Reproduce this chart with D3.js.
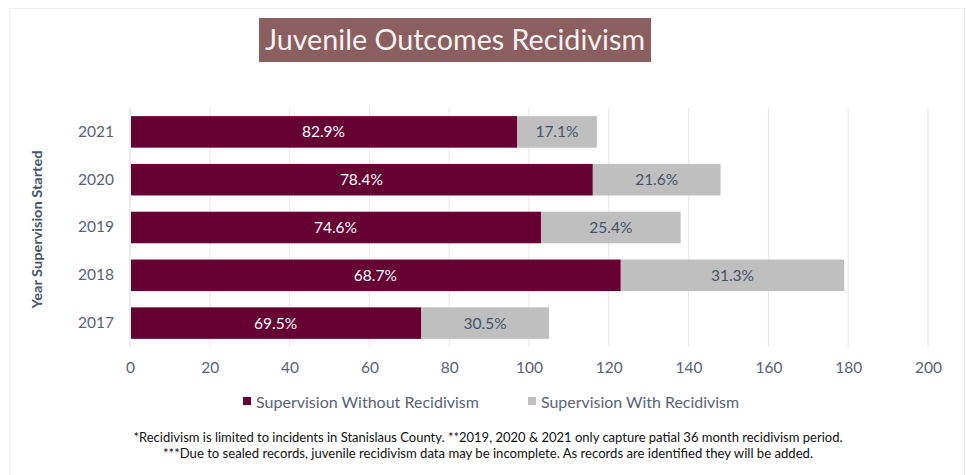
<!DOCTYPE html>
<html>
<head>
<meta charset="utf-8">
<script src="https://cdn.jsdelivr.net/npm/d3@7/dist/d3.min.js"></script>
<style>
  html, body { margin: 0; padding: 0; background: #fff; }
  svg { display: block; font-family: Lato, "Open Sans", sans-serif; }
</style>
</head>
<body>
<svg id="chart" width="966" height="475"></svg>
<script>
// Juvenile supervision outcomes by starting year (counts)
const years = ["2021", "2020", "2019", "2018", "2017"];
const withoutRecidivism = [97, 116, 103, 123, 73];
const withRecidivism = [20, 32, 35, 56, 32];
const xTicks = [0, 20, 40, 60, 80, 100, 120, 140, 160, 180, 200];
const seriesNames = ["Supervision Without Recidivism", "Supervision With Recidivism"];
const footnotes = [
  "*Recidivism is limited to incidents in Stanislaus County. **2019, 2020 & 2021 only capture patial 36 month recidivism period.",
  "***Due to sealed records, juvenile recidivism data may be incomplete. As records are identified they will be added."
];

const colors = ["#660033", "#bfbfbf"];
const labelColors = ["#ffffff", "#44546a"];

const svg = d3.select("#chart");

// faint outer frame
svg.append("rect")
  .attr("x", 9.5).attr("y", 8.5)
  .attr("width", 955).attr("height", 480)
  .attr("fill", "none").attr("stroke", "#eeeeee");

const margin = { left: 130, right: 38, top: 108, bottom: 128 };
const W = 966, H = 475;

const x = d3.scaleLinear().domain([0, 200]).range([margin.left, W - margin.right]);
const y = d3.scaleBand().domain(years).range([margin.top, H - margin.bottom]).paddingInner(0.34).paddingOuter(0.17);

// vertical gridlines
svg.append("g").selectAll("line")
  .data(xTicks.filter(d => d > 0))
  .join("line")
  .attr("x1", d => x(d)).attr("x2", d => x(d))
  .attr("y1", margin.top).attr("y2", H - margin.bottom)
  .attr("stroke", "#e4e6ee").attr("stroke-width", 1);

// category axis line
svg.append("line")
  .attr("x1", x(0)).attr("x2", x(0))
  .attr("y1", margin.top).attr("y2", H - margin.bottom)
  .attr("stroke", "#d4d7de").attr("stroke-width", 1);

// stacked data
const rows = years.map((yr, i) => ({ year: yr, vals: [withoutRecidivism[i], withRecidivism[i]] }));
const stack = d3.stack().keys([0, 1]).value((d, k) => d.vals[k]);
const layers = stack(rows);

layers.forEach((layer, k) => {
  const g = svg.append("g");
  g.selectAll("rect")
    .data(layer)
    .join("rect")
    .attr("x", d => x(d[0]) + (k === 0 ? 1 : 0))
    .attr("y", d => y(d.data.year))
    .attr("width", d => x(d[1]) - x(d[0]) - (k === 0 ? 1 : 0))
    .attr("height", y.bandwidth())
    .attr("fill", colors[k]);

  g.selectAll("text")
    .data(layer)
    .join("text")
    .attr("x", d => (x(d[0]) + x(d[1])) / 2)
    .attr("y", d => y(d.data.year) + y.bandwidth() / 2)
    .attr("dy", "0.36em")
    .attr("text-anchor", "middle")
    .attr("font-size", 15.5)
    .attr("fill", labelColors[k])
    .text(d => {
      const total = d.data.vals[0] + d.data.vals[1];
      return (d.data.vals[k] / total * 100).toFixed(1) + "%";
    });
});

// x axis
const xAxis = svg.append("g")
  .attr("transform", `translate(0,${H - margin.bottom})`)
  .call(d3.axisBottom(x).tickValues(xTicks).tickSize(0).tickPadding(15));
xAxis.select(".domain").remove();
xAxis.selectAll("text").attr("font-size", 15.5).attr("fill", "#596275").attr("font-family", "Lato, 'Open Sans', sans-serif");

// y axis
const yAxis = svg.append("g")
  .attr("transform", `translate(${margin.left},0)`)
  .call(d3.axisLeft(y).tickSize(0).tickPadding(16));
yAxis.select(".domain").remove();
yAxis.selectAll("text").attr("font-size", 15.5).attr("fill", "#596275").attr("font-family", "Lato, 'Open Sans', sans-serif");

// y axis title
svg.append("text")
  .attr("transform", `translate(37,${(margin.top + H - margin.bottom) / 2 + 2}) rotate(-90)`)
  .attr("dy", "0.36em")
  .attr("text-anchor", "middle")
  .attr("font-size", 14)
  .attr("font-weight", "bold")
  .attr("fill", "#44546a")
  .attr("textLength", 158).attr("lengthAdjust", "spacingAndGlyphs")
  .text("Year Supervision Started");

// title
svg.append("rect")
  .attr("x", 259).attr("y", 18).attr("width", 392).attr("height", 44)
  .attr("fill", "#8b5f5f");
svg.append("text")
  .attr("x", 455).attr("y", 40).attr("dy", "0.36em")
  .attr("text-anchor", "middle")
  .attr("font-size", 29)
  .attr("fill", "#f7f2f2")
  .attr("textLength", 380).attr("lengthAdjust", "spacingAndGlyphs")
  .text("Juvenile Outcomes Recidivism");

// legend
const legendItems = [
  { sx: 243, tx: 256, w: 223 },
  { sx: 528, tx: 541, w: 198 }
];
legendItems.forEach((it, k) => {
  svg.append("rect")
    .attr("x", it.sx).attr("y", 397).attr("width", 8).attr("height", 8)
    .attr("fill", colors[k]);
  svg.append("text")
    .attr("x", it.tx).attr("y", 402).attr("dy", "0.36em")
    .attr("font-size", 15.5)
    .attr("fill", "#596275")
    .attr("textLength", it.w).attr("lengthAdjust", "spacingAndGlyphs")
    .text(seriesNames[k]);
});

// footnotes
const footW = [709, 650];
footnotes.forEach((t, i) => {
  svg.append("text")
    .attr("x", 488).attr("y", 437 + i * 16).attr("dy", "0.36em")
    .attr("text-anchor", "middle")
    .attr("font-size", 12.5)
    .attr("fill", "#111111")
    .attr("textLength", footW[i]).attr("lengthAdjust", "spacingAndGlyphs")
    .text(t);
});
</script>
</body>
</html>
